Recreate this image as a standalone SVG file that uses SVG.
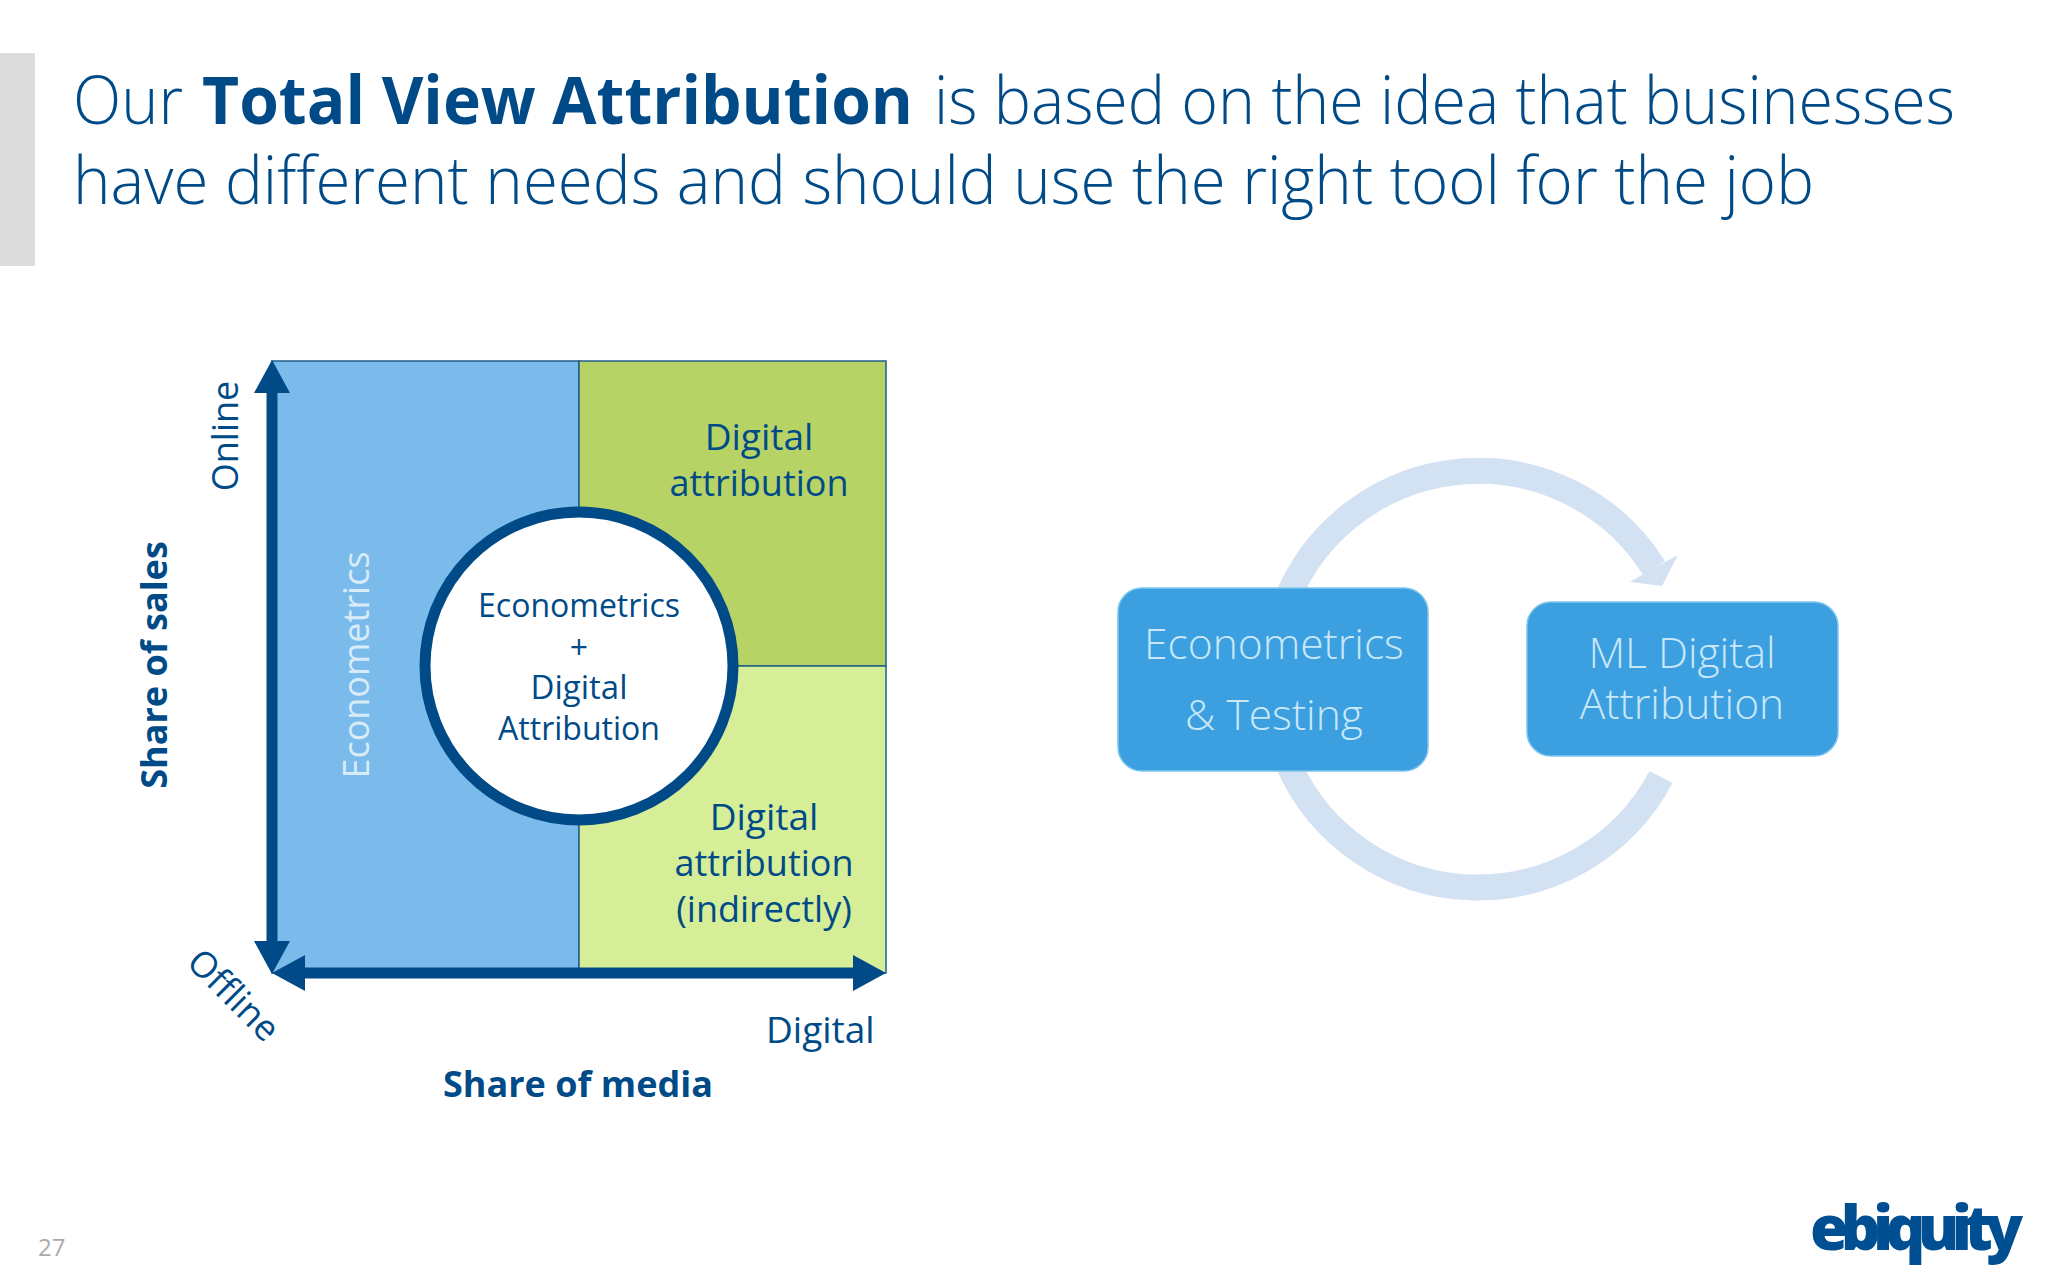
<svg xmlns="http://www.w3.org/2000/svg" width="2048" height="1280" viewBox="0 0 2048 1280">
<style>
text{font-family:"Open Sans","Noto Sans","Liberation Sans",sans-serif;fill:#004b87}
.c{text-anchor:middle}
.t{font-size:67px;font-weight:300}
.b{font-weight:700}
.m{font-size:36px}
.s{font-size:32px}
.h{font-size:36px;font-weight:700}
.w{font-size:42.5px;font-weight:300;fill:#c8e8f8;text-anchor:middle}
.ring{fill:none;stroke:#d3e2f3;stroke-width:26}
.box{fill:#3c9fe0;stroke:#7cc6ee;stroke-width:1.5}
.q{stroke:#1f5f8b;stroke-width:1.5}
.ax{fill:none;stroke:#004b87;stroke-width:11;marker-start:url(#ah);marker-end:url(#ah)}
</style>
<defs>
<marker id="ah" markerUnits="userSpaceOnUse" markerWidth="34" markerHeight="36" refX="0" refY="18" orient="auto-start-reverse" viewBox="0 0 34 36"><path d="M0 0L33 18L0 36Z" fill="#004b87"/></marker>
</defs>
<rect width="2048" height="1280" fill="#fff"/>
<rect id="accent" x="0" y="53" width="35" height="213" fill="#dcdcdc"/>
<g id="title">
<text class="t" y="124"><tspan x="73" textLength="110" lengthAdjust="spacingAndGlyphs">Our</tspan><tspan class="b" x="202" textLength="711" lengthAdjust="spacingAndGlyphs">Total View Attribution</tspan><tspan x="934" textLength="1021" lengthAdjust="spacingAndGlyphs">is based on the idea that businesses</tspan></text>
<text class="t" x="73" y="204" textLength="1741" lengthAdjust="spacingAndGlyphs">have different needs and should use the right tool for the job</text>
</g>
<g id="quadrant-econometrics"><rect class="q" x="272" y="361" width="307" height="612" fill="#7abbeb"/>
<text class="m" transform="translate(369 665) rotate(-90)" text-anchor="middle" style="fill:#d8ecf8">Econometrics</text></g>
<g id="quadrant-digital"><rect class="q" x="579" y="361" width="307" height="305" fill="#b7d366"/>
<text class="m c" x="759" y="450" style="font-size:37px">Digital</text><text class="m c" x="759" y="496">attribution</text></g>
<g id="quadrant-indirect"><rect class="q" x="579" y="666" width="307" height="307" fill="#d6ee98"/>
<text class="m c" x="764" y="830" style="font-size:37px">Digital</text><text class="m c" x="764" y="876">attribution</text><text class="m c" x="764" y="922">(indirectly)</text></g>
<g id="center-circle"><circle cx="579" cy="666" r="154" fill="#fff" stroke="#004b87" stroke-width="11"/>
<text class="s c" x="579" y="617">Econometrics</text><text class="s c" x="579" y="659">+</text><text class="s c" x="579" y="699" style="font-size:33px">Digital</text><text class="s c" x="579" y="740">Attribution</text></g>
<g id="axes">
<path class="ax" d="M272 393V941"/>
<path class="ax" d="M305 973H853"/>
</g>
<g id="axis-labels">
<text class="m" transform="translate(238 436) rotate(-90)" text-anchor="middle">Online</text>
<text class="h" transform="translate(167 665) rotate(-90)" text-anchor="middle">Share of sales</text>
<text class="m" transform="translate(185 964) rotate(45)">Offline</text>
<text class="m" x="766" y="1043" style="font-size:37px">Digital</text>
<text class="h c" x="578" y="1097">Share of media</text>
</g>
<g id="connectors">
<path class="ring" d="M1288 597A207 207 0 0 1 1654 568"/>
<path d="M1678 555L1662 586L1630 582L1650 570Z" fill="#d3e2f3"/>
<path class="ring" d="M1661 777A207 207 0 0 1 1288 763"/>
</g>
<g id="box-econometrics"><rect class="box" x="1118" y="588" width="310" height="183" rx="24"/>
<text class="w" x="1274" y="659">Econometrics</text><text class="w" x="1274" y="730">&amp; Testing</text></g>
<g id="box-ml"><rect class="box" x="1527" y="602" width="311" height="154" rx="24"/>
<text class="w" x="1682" y="668">ML Digital</text><text class="w" x="1682" y="719">Attribution</text></g>
<text id="page" x="38" y="1256" style="font-size:24px;fill:#aaa">27</text>
<text id="logo" x="1810" y="1250" textLength="213" lengthAdjust="spacing" style="font-size:62px;font-weight:800;fill:#004f92">ebiquity</text>
</svg>
